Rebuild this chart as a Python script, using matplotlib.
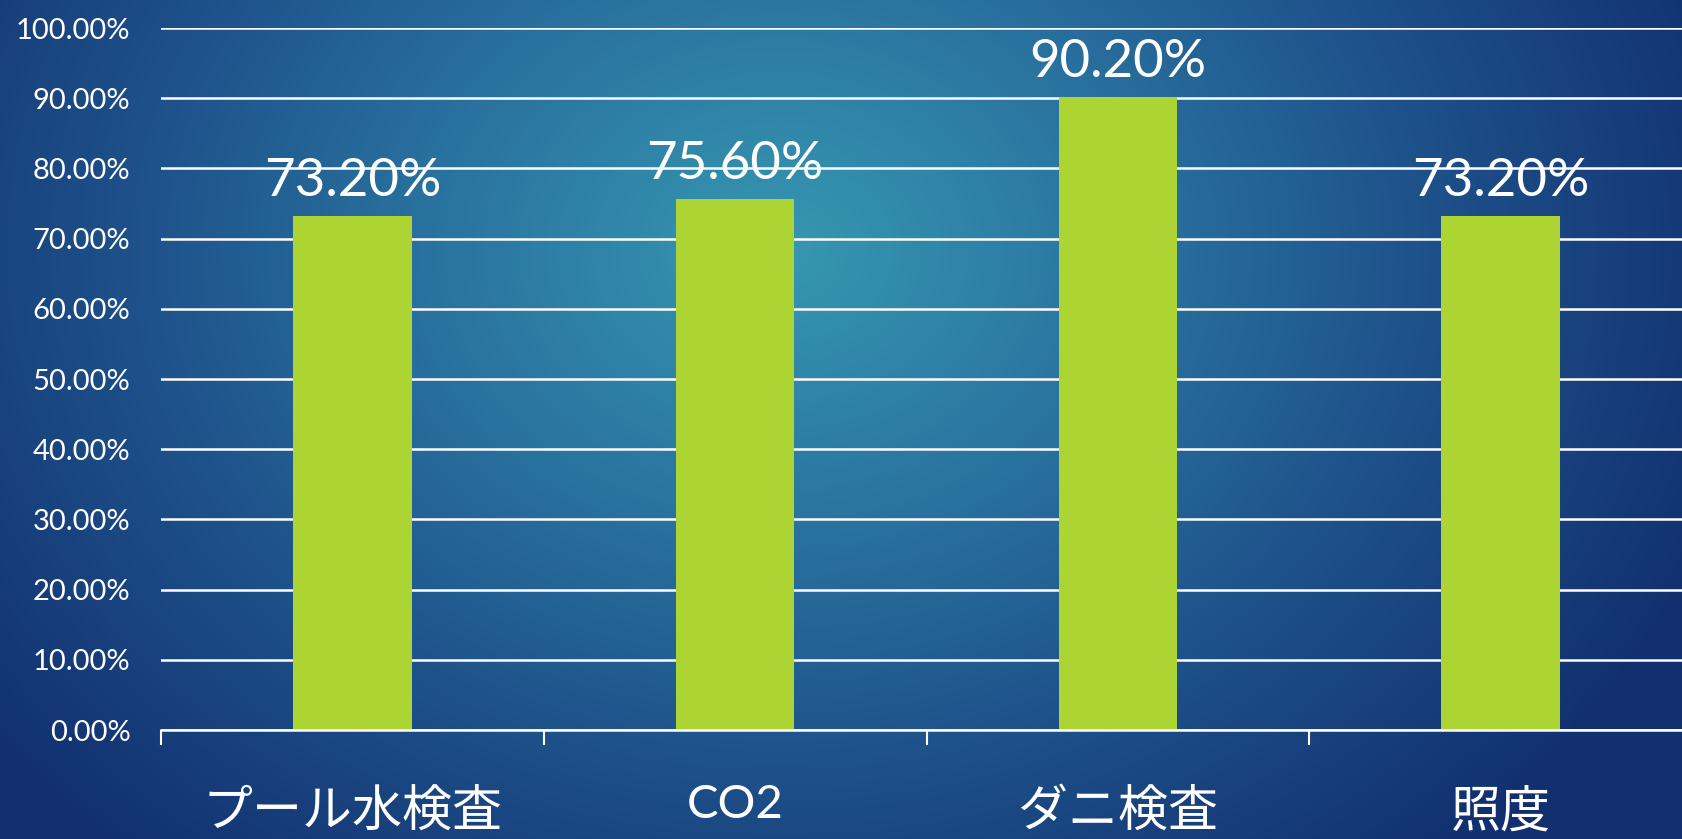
import numpy as np
import matplotlib.pyplot as plt
from matplotlib.colors import LinearSegmentedColormap

categories = ["プール水検査", "CO2", "ダニ検査", "照度"]
values = [0.732, 0.756, 0.902, 0.732]
bar_labels = ["73.20%", "75.60%", "90.20%", "73.20%"]
y_ticks = [0.0, 0.1, 0.2, 0.3, 0.4, 0.5, 0.6, 0.7, 0.8, 0.9, 1.0]

jp_font = ["Noto Sans CJK JP", "DejaVu Sans"]
num_font = ["Lato", "DejaVu Sans"]

fig = plt.figure(figsize=(16.82, 8.39), dpi=100)

# background: radial blue gradient
bg = fig.add_axes([0, 0, 1, 1], zorder=0)
h, w = 839, 1682
yy, xx = np.mgrid[0:h, 0:w]
r = np.sqrt(((xx - 780) / 1000.0) ** 2 + ((yy - 250) / 800.0) ** 2)
r = np.clip(r, 0, 1)
cmap = LinearSegmentedColormap.from_list(
    "bg", ["#3698b1", "#2a74a0", "#1d4f88", "#123070"])
bg.imshow(r, cmap=cmap, vmin=0, vmax=1, aspect="auto", interpolation="bilinear")
bg.axis("off")

ax = fig.add_axes([0.0957, 0.1299, 0.9103, 0.8367], zorder=1)
ax.patch.set_alpha(0)

x = np.arange(len(categories))
ax.bar(x, values, width=0.31, color="#acd433", zorder=3)

ax.set_xlim(-0.5, 3.5)
ax.set_ylim(0, 1.0)
ax.set_yticks(y_ticks)
ax.set_yticklabels(["{:.2f}%".format(v * 100) for v in y_ticks],
                   fontfamily=num_font, fontsize=21, color="white")
ax.tick_params(axis="y", length=0, pad=22)
ax.yaxis.grid(True, color="white", linewidth=1.8, zorder=1)
ax.set_axisbelow(True)

for s in ["top", "right", "left"]:
    ax.spines[s].set_visible(False)
ax.spines["bottom"].set_color("white")
ax.spines["bottom"].set_linewidth(1.8)
ax.spines["bottom"].set_zorder(4)

# category boundary ticks
ax.set_xticks(np.arange(-0.5, 4.0, 1.0))
ax.set_xticklabels([])
ax.tick_params(axis="x", direction="out", length=11, width=1.5, color="white")

for i, lab in enumerate(bar_labels):
    ax.annotate(lab, (x[i], values[i]), xytext=(0, 8),
                textcoords="offset points", ha="center", va="bottom",
                fontfamily=num_font, fontsize=38, color="white")

trans = ax.get_xaxis_transform()
for i, cat in enumerate(categories):
    if cat == "CO2":
        ax.text(x[i], -0.077, cat, transform=trans, ha="center", va="top",
                fontfamily=num_font, fontsize=34, color="white")
    else:
        ax.text(x[i], -0.08, cat, transform=trans, ha="center", va="top",
                fontfamily=jp_font, fontsize=36, color="white")

fig.savefig("out.png", dpi=100)
